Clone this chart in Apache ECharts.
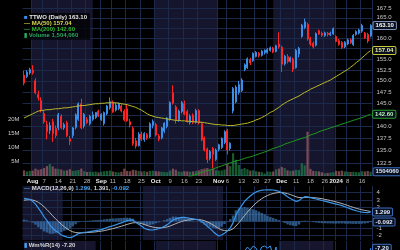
<!DOCTYPE html>
<html><head><meta charset="utf-8">
<script src="https://cdn.jsdelivr.net/npm/echarts@6.0.0/dist/echarts.min.js"></script>
<style>html,body{margin:0;padding:0;background:#000;}#c{width:400px;height:250px;}</style>
</head><body><div id="c"></div>
<script>
const dates = ['2023-07-27','2023-07-28','2023-07-31','2023-08-01','2023-08-02','2023-08-03','2023-08-04','2023-08-07','2023-08-08','2023-08-09','2023-08-10','2023-08-11','2023-08-14','2023-08-15','2023-08-16','2023-08-17','2023-08-18','2023-08-21','2023-08-22','2023-08-23','2023-08-24','2023-08-25','2023-08-28','2023-08-29','2023-08-30','2023-08-31','2023-09-01','2023-09-05','2023-09-06','2023-09-07','2023-09-08','2023-09-11','2023-09-12','2023-09-13','2023-09-14','2023-09-15','2023-09-18','2023-09-19','2023-09-20','2023-09-21','2023-09-22','2023-09-25','2023-09-26','2023-09-27','2023-09-28','2023-09-29','2023-10-02','2023-10-03','2023-10-04','2023-10-05','2023-10-06','2023-10-09','2023-10-10','2023-10-11','2023-10-12','2023-10-13','2023-10-16','2023-10-17','2023-10-18','2023-10-19','2023-10-20','2023-10-23','2023-10-24','2023-10-25','2023-10-26','2023-10-27','2023-10-30','2023-10-31','2023-11-01','2023-11-02','2023-11-03','2023-11-06','2023-11-07','2023-11-08','2023-11-09','2023-11-10','2023-11-13','2023-11-14','2023-11-15','2023-11-16','2023-11-17','2023-11-20','2023-11-21','2023-11-22','2023-11-24','2023-11-27','2023-11-28','2023-11-29','2023-11-30','2023-12-01','2023-12-04','2023-12-05','2023-12-06','2023-12-07','2023-12-08','2023-12-11','2023-12-12','2023-12-13','2023-12-14','2023-12-15','2023-12-18','2023-12-19','2023-12-20','2023-12-21','2023-12-22','2023-12-26','2023-12-27','2023-12-28','2023-12-29','2024-01-02','2024-01-03','2024-01-04','2024-01-05','2024-01-08','2024-01-09','2024-01-10','2024-01-11','2024-01-12','2024-01-16','2024-01-17','2024-01-18','2024-01-19'];

const open = [151.3,151.0,151.8,152.5,150.0,147.0,145.6,142.8,140.4,139.2, 141.0,139.6,139.7,142.2,139.7,140.8,137.4,138.1,139.8,141.5, 144.9,140.1,141.5,140.6,141.5,141.9,143.3,141.4,140.6,142.7, 144.0,145.2,143.5,143.8,144.4,143.3,143.8,141.0,139.6,137.0, 136.0,138.4,137.2,138.3,137.8,140.2,140.4,138.0,137.6,139.0, 140.0,141.6,147.3,144.2,141.4,143.2,144.9,143.2,140.8,142.4, 140.9,143.4,140.6,137.6,135.3,133.4,135.4,133.2,135.2,135.6, 136.6,139.2,135.4,143.3,145.3,147.4,147.8,152.6,153.0,154.9, 154.6,155.6,156.4,155.9,156.5,156.6,157.0,157.6,156.8,158.6, 157.8,153.9,155.6,154.5,155.0,153.0,156.2,160.4,162.6,163.4, 159.9,158.8,158.3,161.8,161.2,160.6,161.2,160.8,161.0,160.4, 159.4,159.0,157.9,158.6,159.6,158.4,160.9,161.2,161.7,161.2, 160.9,160.5];
const high = [152.3,152.4,153.0,153.6,150.6,147.8,146.3,143.4,141.2,140.9, 141.6,140.2,142.9,142.6,140.8,141.2,138.0,139.9,142.8,145.2, 146.0,142.9,142.0,142.5,143.2,143.1,143.6,142.8,143.2,144.6, 146.3,145.6,145.2,145.2,144.8,143.7,144.6,141.6,140.0,137.6, 138.8,138.9,138.8,138.6,140.9,141.5,140.8,138.4,139.9,140.9, 142.0,145.4,149.0,144.6,143.6,145.5,145.6,143.6,142.6,142.8, 143.8,143.7,141.0,137.9,135.6,135.1,135.7,135.4,136.4,137.7, 139.2,139.5,136.7,148.6,149.0,150.0,150.6,154.0,155.4,155.3, 156.6,156.9,156.7,157.2,157.3,157.6,158.0,157.9,158.4,161.4, 158.2,156.0,156.2,155.6,155.4,157.4,157.9,163.5,164.8,163.8, 160.3,159.2,161.4,162.1,161.6,161.6,161.5,161.6,162.6,160.7, 159.8,159.3,159.3,159.9,159.9,161.0,161.9,162.3,163.5,161.5, 161.3,163.4];
const low = [149.0,150.6,151.4,151.4,147.0,145.6,143.0,140.6,137.3,138.4, 136.8,137.6,139.2,139.4,139.3,137.8,136.1,137.6,139.4,141.2, 139.4,139.6,140.5,140.2,141.2,141.6,142.0,141.2,140.2,142.4, 143.6,142.9,143.2,143.5,143.0,141.1,141.0,139.8,136.0,135.4, 135.8,137.0,136.8,137.2,137.6,139.6,137.9,136.9,137.3,138.6, 139.6,141.2,144.7,140.6,141.0,142.8,142.4,140.8,140.4,140.5, 140.6,140.4,136.9,134.8,132.5,133.0,131.4,132.9,134.8,135.3, 136.3,134.2,135.0,142.8,145.0,146.9,147.5,152.2,152.7,153.6, 154.4,155.4,155.4,155.6,156.1,156.3,156.8,156.4,156.6,157.5, 152.0,153.5,154.0,154.2,152.0,152.8,155.4,160.1,162.2,159.4, 158.2,157.5,158.0,160.8,160.3,160.3,160.4,160.5,160.8,159.0, 158.2,157.4,157.6,158.3,158.6,158.1,160.6,160.9,161.3,159.8, 158.8,160.2];
const close = [149.5,152.0,152.6,151.8,147.3,146.2,143.4,141.0,138.9,140.2, 138.5,138.1,142.5,139.7,140.4,138.1,136.9,139.7,142.5,144.9, 139.7,142.6,140.8,142.2,142.5,143.0,142.2,142.6,143.0,144.4, 145.4,143.1,144.6,144.9,143.3,141.4,141.2,140.3,136.4,135.9, 138.4,137.3,138.5,137.6,140.6,141.1,138.2,137.3,139.7,140.7, 141.8,145.2,145.0,141.4,143.3,145.2,142.6,141.0,142.2,140.9, 143.4,140.8,137.2,135.1,133.2,134.8,134.2,135.1,136.2,137.5, 138.9,135.1,136.5,148.3,148.6,149.2,150.2,153.7,155.1,154.1, 156.4,156.6,155.8,156.9,157.1,157.3,157.7,156.7,158.2,157.9, 153.8,155.7,154.4,155.3,152.6,157.1,157.6,163.2,164.0,159.8, 158.6,157.9,161.1,161.0,160.7,161.3,160.9,161.2,162.3,159.2, 158.5,157.7,159.0,159.6,158.9,160.7,161.6,162.0,163.1,160.1, 159.3,163.1];
// volume in millions
const volume = [2.0,1.6,1.8,1.9,2.6,2.2,2.4,2.8,3.5,4.2, 3.4,2.6,2.5,2.3,1.9,2.0,2.4,1.8,1.9,2.1, 2.6,1.7,1.4,1.5,1.4,1.6,1.3,1.5,1.7,1.8, 1.9,1.6,1.4,1.3,1.5,2.6,1.8,1.7,2.2,2.0, 1.8,1.6,1.7,1.5,1.8,1.9,1.7,1.6,1.5,1.4, 1.3,1.9,2.6,2.2,1.6,1.5,1.7,1.6,1.5,1.6, 1.8,2.0,2.4,2.6,2.8,2.2,2.5,2.0,1.9,2.0, 2.3,4.2,3.5,8.0,5.7,3.9,2.5,2.8,2.4,1.9, 2.0,1.7,1.5,1.4,0.9,1.6,1.5,1.6,2.3,2.6, 3.2,2.8,2.0,1.8,1.9,2.2,2.1,4.5,3.8,15.6, 2.5,1.8,1.7,1.6,1.3,1.0,1.1,1.2,1.3,1.8, 1.7,1.9,1.6,1.5,1.4,1.5,1.4,1.3,1.7,1.6, 1.8,1.504];
const lastVolume = 1504060;
const ma50 = [141.8,142.1,142.4,142.7,143.0,143.3,143.4,143.5,143.6,143.6, 143.7,143.8,143.8,143.9,144.0,144.0,144.1,144.2,144.3,144.4, 144.5,144.5,144.6,144.7,144.8,144.9,144.9,145.0,145.0,145.1, 145.1,145.1,145.1,145.0,144.9,144.8,144.7,144.5,144.3,144.1, 143.8,143.5,143.1,142.7,142.4,142.2,142.0,141.9,141.8,141.7, 141.6,141.5,141.4,141.3,141.3,141.2,141.2,141.1,141.1,141.0, 141.0,140.9,140.9,140.8,140.7,140.6,140.5,140.4,140.4,140.3, 140.3,140.2,140.2,140.2,140.3,140.4,140.5,140.6,140.7,140.9, 141.1,141.4,141.6,141.9,142.2,142.6,143.0,143.3,143.7,144.1, 144.6,145.0,145.4,145.7,146.0,146.3,146.6,147.0,147.4,147.7, 148.1,148.4,148.7,149.0,149.3,149.6,149.9,150.2,150.6,151.0, 151.4,151.8,152.2,152.6,153.1,153.6,154.2,154.7,155.3,155.9, 156.5,157.04];
const ma200Start = '2023-10-12';
const ma200 = [129.1,129.2,129.4,129.6,129.8,130.0,130.2,130.4,130.6,130.8, 131.0,131.1,131.3,131.5,131.7,131.9,132.1,132.3,132.5,132.7, 132.9,133.0,133.2,133.4,133.6,133.7,133.9,134.1,134.3,134.5, 134.7,134.9,135.2,135.4,135.6,135.8,136.0,136.3,136.5,136.7, 136.9,137.1,137.3,137.5,137.7,137.9,138.2,138.4,138.6,138.9, 139.1,139.3,139.5,139.7,139.9,140.1,140.3,140.5,140.7,140.9, 141.1,141.3,141.5,141.7,141.9,142.1,142.4,142.6];
const macd = [3.20,3.15,3.08,2.80,2.40,1.85,1.30,0.65,0.10,-0.50, -0.95,-1.30,-1.55,-1.90,-2.05,-2.20,-2.27,-2.15,-1.95,-1.70, -1.62,-1.52,-1.48,-1.42,-1.35,-1.28,-1.22,-1.15,-1.00,-0.85, -0.72,-0.60,-0.48,-0.32,-0.20,-0.05,0.10,0.20,0.18,-0.10, -0.40,-0.65,-0.95,-1.12,-1.18,-1.20,-1.12,-1.02,-0.88,-0.68, -0.45,-0.15,0.20,0.35,0.45,0.55,0.57,0.50,0.42,0.35, 0.28,0.20,0.00,-0.35,-0.70,-1.00,-1.40,-1.75,-2.04,-1.90, -1.65,-1.35,-0.90,-0.20,0.90,1.60,2.20,2.80,3.20,3.55, 3.85,4.10,4.25,4.35,4.38,4.40,4.40,4.38,4.30,4.20, 4.00,3.75,3.45,3.20,2.98,2.78,2.90,3.22,3.45,3.42, 3.32,3.22,3.12,3.02,2.92,2.82,2.72,2.62,2.52,2.42, 2.32,2.20,2.05,1.90,1.75,1.60,1.48,1.38,1.30,1.24, 1.22,1.299];
const signal = [2.95,3.00,3.02,2.98,2.86,2.66,2.39,2.04,1.65,1.22, 0.78,0.36,-0.02,-0.40,-0.73,-1.02,-1.27,-1.45,-1.55,-1.58, -1.59,-1.58,-1.56,-1.53,-1.50,-1.46,-1.41,-1.36,-1.29,-1.20, -1.10,-1.00,-0.90,-0.78,-0.67,-0.55,-0.42,-0.30,-0.20,-0.18, -0.22,-0.30,-0.43,-0.57,-0.69,-0.79,-0.86,-0.89,-0.89,-0.85, -0.77,-0.65,-0.48,-0.31,-0.16,-0.02,0.10,0.18,0.23,0.26, 0.26,0.25,0.20,0.09,-0.07,-0.26,-0.49,-0.74,-1.00,-1.18, -1.28,-1.30,-1.22,-1.02,-0.64,-0.20,0.30,0.82,1.30,1.75, 2.17,2.55,2.88,3.17,3.41,3.61,3.77,3.89,3.97,4.02, 4.02,3.97,3.87,3.74,3.59,3.43,3.33,3.31,3.34,3.35, 3.34,3.32,3.28,3.23,3.17,3.08,3.00,2.91,2.82,2.72, 2.61,2.49,2.36,2.22,2.08,1.95,1.83,1.72,1.62,1.53, 1.46,1.391];
const hist = [0.25,0.15,0.06,-0.18,-0.46,-0.81,-1.09,-1.39,-1.55,-1.72, -1.73,-1.66,-1.53,-1.50,-1.32,-1.18,-1.00,-0.70,-0.40,-0.12, -0.03,0.06,0.08,0.11,0.15,0.18,0.19,0.21,0.29,0.35, 0.38,0.40,0.42,0.46,0.47,0.50,0.52,0.50,0.38,0.08, -0.18,-0.35,-0.52,-0.55,-0.49,-0.41,-0.26,-0.13,0.01,0.17, 0.32,0.50,0.68,0.66,0.61,0.57,0.47,0.32,0.19,0.09, 0.02,-0.05,-0.20,-0.44,-0.63,-0.74,-0.91,-1.01,-1.04,-0.72, -0.37,-0.05,0.32,0.82,1.54,1.80,1.90,1.98,1.90,1.80, 1.68,1.55,1.37,1.18,0.97,0.79,0.63,0.49,0.33,0.18, -0.02,-0.22,-0.42,-0.54,-0.61,-0.65,-0.43,-0.09,0.11,0.07, -0.02,-0.10,-0.16,-0.21,-0.25,-0.26,-0.28,-0.29,-0.30,-0.30, -0.29,-0.29,-0.31,-0.32,-0.33,-0.35,-0.35,-0.34,-0.32,-0.29, -0.24,-0.092];
const willr = [-35,-20,-12,-25,-70,-80,-92,-95,-90,-78, -88,-90,-62,-82,-76,-88,-94,-74,-46,-20, -60,-38,-50,-40,-34,-33,-38,-40,-35,-18, -14,-34,-15,-30,-48,-56,-52,-58,-93,-96, -75,-83,-73,-80,-55,-48,-70,-78,-60,-51, -40,-12,-29,-56,-42,-28,-46,-60,-50,-40, -62,-90,-95,-96,-85,-84,-87,-74,-65,-55, -40,-70,-60,-12,-14,-15,-11,-10,-6,-9, -5,-7,-12,-6,-5,-7,-5,-15,-6,-35, -80,-63,-73,-65,-90,-35,-30,-11,-10,-40, -52,-60,-32,-35,-38,-32,-36,-32,-23,-48, -55,-67,-56,-49,-58,-38,-30,-26,-10,-40, -48,-7.2];

const tickDates = ['2023-08-01','2023-08-07','2023-08-14','2023-08-21','2023-08-28','2023-09-05','2023-09-11','2023-09-18','2023-09-25','2023-10-02','2023-10-09','2023-10-16','2023-10-23','2023-11-01','2023-11-06','2023-11-13','2023-11-20','2023-11-27','2023-12-04','2023-12-11','2023-12-18','2023-12-26','2024-01-02','2024-01-08','2024-01-16'];
const tickLabels = ['Aug','7','14','21','28','Sep','11','18','25','Oct','9','16','23','Nov','6','13','20','27','Dec','11','18','26','2024','8','16'];
const monthLabels = ['Aug','Sep','Oct','Nov','Dec','2024'];
const shadeRanges = [['2023-07-27','2023-08-31'],['2023-10-02','2023-10-31'],['2023-12-01','2023-12-29']];
const priceTicks = [130,132.5,135,137.5,140,142.5,145,147.5,150,152.5,155,157.5,160,162.5,165,167.5];
const priceLabelTicks = [132.5,135,137.5,140,145,147.5,150,152.5,155,160,165,167.5];
const volTicks = [5,10,15,20];
const macdTicks = [-2,-1,0,1,2,3,4];
const macdLabelTicks = [-2,-1,2,3,4];

const priceRange = [129.9, 169.5];
const volRange = [0, 62];
const macdRange = [-2.594, 4.937];
const willRange = [-9, 0];

const FONT = 'Liberation Sans, Arial, sans-serif';
const GRID = '#1b2a4a';
const L = Math.log;
const last = dates.length - 1;
const UP = '#3b8ee8', DN = '#ff2424';
const tickMap = {}; tickDates.forEach((d, k) => tickMap[d] = tickLabels[k]);
const isTick = (idx, val) => tickMap[val] !== undefined;

const candleData = dates.map((d, i) => {
  const ref = i > 0 ? close[i - 1] : open[i];
  const c = close[i] >= ref ? UP : DN;
  const hollow = c === UP ? 'rgba(59,142,232,0.35)' : 'rgba(255,36,36,0.35)';
  return { value: [L(open[i]), L(close[i]), L(low[i]), L(high[i])],
    itemStyle: { color: hollow, color0: c, borderColor: c, borderColor0: c, borderWidth: 1 } };
});
const volData = dates.map((d, i) => {
  const ref = i > 0 ? close[i - 1] : open[i];
  return { value: volume[i], itemStyle: { color: close[i] >= ref ? 'rgba(38,150,80,0.6)' : 'rgba(190,110,115,0.6)' } };
});
const s200 = dates.indexOf(ma200Start);
const ma200Data = dates.map((d, i) => (i >= s200 ? L(ma200[i - s200]) : null));

const shade = () => ({ silent: true, itemStyle: { color: 'rgba(26,26,58,0.8)' },
  data: shadeRanges.map(r => [{ xAxis: r[0] }, { xAxis: r[1] }]) });
const box = (text, color, border) => ({ show: true, formatter: text, color: color, fontSize: 6, fontFamily: FONT,
  fontWeight: 'bold', backgroundColor: '#08101f', borderColor: border, borderWidth: 1, borderRadius: 1, padding: [1, 2, 0, 2] });
const pointBox = (coord, text, color, border) => ({ symbol: 'circle', symbolSize: 1, itemStyle: { color: 'rgba(0,0,0,0)' },
  data: [{ coord: coord, label: Object.assign(box(text, color, border), { position: 'right', distance: 2.5 }) }] });

const xAxisFor = (gi, withLabels) => ({
  type: 'category', gridIndex: gi, data: dates, boundaryGap: true, z: 1.5,
  axisLine: { show: false }, axisTick: { show: false },
  splitLine: { show: true, interval: isTick, lineStyle: { color: GRID, width: 1 } },
  axisLabel: withLabels ? {
    show: true, interval: isTick, margin: 2.5, fontSize: 6, fontFamily: FONT, color: '#bcbcbc',
    formatter: v => (monthLabels.indexOf(tickMap[v]) >= 0 ? '{m|' + tickMap[v] + '}' : (tickMap[v] || '')),
    rich: { m: { fontWeight: 'bold', color: '#ececec', fontSize: 6, fontFamily: FONT } }
  } : { show: false }
});
const lbl = { fontSize: 6, fontFamily: FONT, color: '#c8c8c8' };
const fmtComma = n => String(n).replace(/\B(?=(\d{3})+(?!\d))/g, ',');
const rs = (c, extra) => Object.assign({ color: c, fontSize: 6, fontFamily: FONT, lineHeight: 6.2 }, extra || {});

const chart = echarts.init(document.getElementById('c'), null, { renderer: 'canvas' });
chart.setOption({
  backgroundColor: '#000',
  animation: false,
  title: [
    { left: 23, top: 13, padding: [1, 3, 1, 1], backgroundColor: 'rgba(0,0,0,0.75)',
      text: '{ic|■} {w|TTWO (Daily) ' + close[last].toFixed(2) + '}\n{y|— MA(50) ' + ma50[last].toFixed(2) + '}\n{g|— MA(200) ' + ma200[ma200.length - 1].toFixed(2) + '}\n{v|▮ Volume ' + fmtComma(lastVolume) + '}',
      textStyle: { fontSize: 6, lineHeight: 6.2, fontFamily: FONT,
        rich: { ic: rs('#3b8ee8'), w: rs('#e6e6e6'), y: rs('#d8d84a'), g: rs('#2db82d'), v: rs('#2aa860') } } },
    { left: 24, top: 184.8, padding: 0,
      text: '{b|—} {w|MACD(12,26,9)} {b|' + macd[last].toFixed(3) + ',} {w|' + signal[last].toFixed(3) + ',} {b|' + hist[last].toFixed(3) + '}',
      textStyle: { fontSize: 6, fontFamily: FONT, rich: { b: rs('#4aa0ee'), w: rs('#d6d6d6') } } },
    { left: 24, top: 242.6, padding: 0,
      text: '{b|▮} {w|Wm%R(14) ' + willr[last].toFixed(2) + '}',
      textStyle: { fontSize: 6, fontFamily: FONT, rich: { b: rs('#4aa0ee'), w: rs('#d6d6d6') } } }
  ],
  grid: [
    { left: 22.6, top: 0, width: 349.4, height: 176 },
    { left: 22.6, top: 186, width: 349.4, height: 54 },
    { left: 22.6, top: 241, width: 349.4, height: 9 }
  ],
  xAxis: [xAxisFor(0, true), xAxisFor(1, false), xAxisFor(2, false)],
  yAxis: [
    { type: 'value', gridIndex: 0, position: 'right', min: L(priceRange[0]), max: L(priceRange[1]), z: 1.5,
      axisLine: { show: false }, axisTick: { show: false, customValues: priceTicks.map(L) },
      splitLine: { show: true, lineStyle: { color: GRID } },
      axisLabel: Object.assign({ customValues: priceLabelTicks.map(L), margin: 4.5, formatter: v => Math.exp(v).toFixed(1) }, lbl) },
    { type: 'value', gridIndex: 0, position: 'left', min: volRange[0], max: volRange[1], z: 1.5,
      axisLine: { show: false }, axisTick: { show: false, customValues: volTicks }, splitLine: { show: false },
      axisLabel: Object.assign({ customValues: volTicks, margin: 3, formatter: v => v + 'M' }, lbl) },
    { type: 'value', gridIndex: 1, position: 'right', min: macdRange[0], max: macdRange[1], z: 1.5,
      axisLine: { show: false }, axisTick: { show: false, customValues: macdTicks },
      splitLine: { show: true, lineStyle: { color: GRID } },
      axisLabel: Object.assign({ customValues: macdLabelTicks, margin: 4.5 }, lbl) },
    { type: 'value', gridIndex: 2, position: 'right', min: willRange[0], max: willRange[1], show: false }
  ],
  series: [
    { type: 'bar', name: 'Volume', xAxisIndex: 0, yAxisIndex: 1, data: volData, barCategoryGap: '22%', z: 2,
      markArea: shade(), markPoint: pointBox([dates[last], volume[last]], String(lastVolume), '#e0e8ff', '#3a6fc0') },
    { type: 'candlestick', name: 'TTWO', xAxisIndex: 0, yAxisIndex: 0, data: candleData, barWidth: 1.5, z: 3,
      markPoint: pointBox([dates[last], L(close[last])], close[last].toFixed(2), '#ffffff', '#7f93b8') },
    { type: 'line', name: 'MA50', xAxisIndex: 0, yAxisIndex: 0, data: ma50.map(L), symbol: 'none', z: 4,
      lineStyle: { color: '#b8b828', width: 1 },
      endLabel: Object.assign(box(ma50[last].toFixed(2), '#f0f0a0', '#c8c83a'), { distance: 2.5 }) },
    { type: 'line', name: 'MA200', xAxisIndex: 0, yAxisIndex: 0, data: ma200Data, symbol: 'none', z: 4,
      lineStyle: { color: '#1f991f', width: 1 },
      endLabel: Object.assign(box(ma200[ma200.length - 1].toFixed(2), '#b8f0b8', '#2aa02a'), { distance: 2.5 }) },
    { type: 'bar', name: 'Hist', xAxisIndex: 1, yAxisIndex: 2, data: hist, barCategoryGap: '12%', z: 2,
      itemStyle: { color: 'rgba(70,140,210,0.6)' }, markArea: shade(),
      markPoint: pointBox([dates[last], hist[last]], hist[last].toFixed(3), '#e0e8ff', '#3a6fc0') },
    { type: 'line', name: 'MACD', xAxisIndex: 1, yAxisIndex: 2, data: macd, symbol: 'none', z: 4,
      lineStyle: { color: '#3a96ea', width: 1.2 },
      endLabel: Object.assign(box(macd[last].toFixed(3), '#e0e8ff', '#3a6fc0'), { distance: 2.5 }) },
    { type: 'line', name: 'Signal', xAxisIndex: 1, yAxisIndex: 2, data: signal, symbol: 'none', z: 3,
      lineStyle: { color: '#b4b4b4', width: 1 } },
    { type: 'line', name: 'WmR', xAxisIndex: 2, yAxisIndex: 3, data: willr, symbol: 'none', z: 4,
      lineStyle: { color: '#3a96ea', width: 1 }, markArea: shade(),
      endLabel: Object.assign(box(willr[last].toFixed(2), '#e0e8ff', '#3a6fc0'), { distance: 2.5 }) }
  ]
});
</script>
</body></html>
